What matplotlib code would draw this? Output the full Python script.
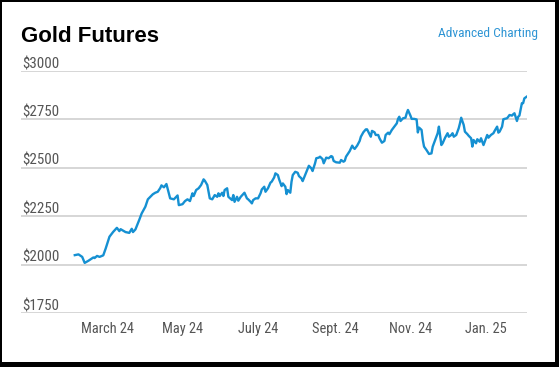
import matplotlib
matplotlib.use("Agg")
import matplotlib.pyplot as plt
import matplotlib.transforms as mtransforms
from matplotlib import font_manager
from matplotlib.patches import Rectangle
import pandas as pd

# Gold futures settle prices (USD/oz)
DATES = [
    "2024-02-04", "2024-02-07", "2024-02-10", "2024-02-12", "2024-02-15", "2024-02-19",
    "2024-02-20", "2024-02-22", "2024-02-24", "2024-02-27", "2024-02-29", "2024-03-03",
    "2024-03-06", "2024-03-09", "2024-03-11", "2024-03-12", "2024-03-16", "2024-03-19",
    "2024-03-21", "2024-03-22", "2024-03-24", "2024-03-27", "2024-03-29", "2024-04-01",
    "2024-04-03", "2024-04-05", "2024-04-07", "2024-04-09", "2024-04-11", "2024-04-13",
    "2024-04-14", "2024-04-16", "2024-04-18", "2024-04-20", "2024-04-21", "2024-04-24",
    "2024-04-27", "2024-04-28", "2024-05-01", "2024-05-03", "2024-05-05", "2024-05-07",
    "2024-05-09", "2024-05-10", "2024-05-12", "2024-05-14", "2024-05-16", "2024-05-18",
    "2024-05-19", "2024-05-21", "2024-05-22", "2024-05-23", "2024-05-25", "2024-05-27",
    "2024-05-29", "2024-05-30", "2024-05-31", "2024-06-02", "2024-06-03", "2024-06-04",
    "2024-06-06", "2024-06-07", "2024-06-10", "2024-06-11", "2024-06-12", "2024-06-14",
    "2024-06-15", "2024-06-17", "2024-06-19", "2024-06-20", "2024-06-22", "2024-06-23",
    "2024-06-25", "2024-06-26", "2024-06-27", "2024-06-29", "2024-07-01", "2024-07-03",
    "2024-07-04", "2024-07-06", "2024-07-07", "2024-07-09", "2024-07-11", "2024-07-12",
    "2024-07-14", "2024-07-15", "2024-07-17", "2024-07-18", "2024-07-20", "2024-07-21",
    "2024-07-23", "2024-07-24", "2024-07-25", "2024-07-27", "2024-07-28", "2024-07-29",
    "2024-07-31", "2024-08-02", "2024-08-03", "2024-08-05", "2024-08-06", "2024-08-08",
    "2024-08-10", "2024-08-11", "2024-08-13", "2024-08-14", "2024-08-16", "2024-08-17",
    "2024-08-19", "2024-08-20", "2024-08-22", "2024-08-23", "2024-08-25", "2024-08-27",
    "2024-08-29", "2024-08-30", "2024-08-31", "2024-09-02", "2024-09-05", "2024-09-06",
    "2024-09-08", "2024-09-09", "2024-09-10", "2024-09-13", "2024-09-15", "2024-09-16",
    "2024-09-17", "2024-09-19", "2024-09-21", "2024-09-22", "2024-09-24", "2024-09-26",
    "2024-09-27", "2024-09-29", "2024-09-30", "2024-10-01", "2024-10-03", "2024-10-04",
    "2024-10-06", "2024-10-07", "2024-10-09", "2024-10-11", "2024-10-12", "2024-10-14",
    "2024-10-15", "2024-10-17", "2024-10-19", "2024-10-21", "2024-10-22", "2024-10-23",
    "2024-10-24", "2024-10-26", "2024-10-28", "2024-10-29", "2024-10-30", "2024-11-01",
    "2024-11-02", "2024-11-04", "2024-11-06", "2024-11-07", "2024-11-08", "2024-11-10",
    "2024-11-11", "2024-11-12", "2024-11-14", "2024-11-16", "2024-11-18", "2024-11-19",
    "2024-11-21", "2024-11-23", "2024-11-24", "2024-11-26", "2024-11-27", "2024-11-29",
    "2024-12-01", "2024-12-02", "2024-12-04", "2024-12-05", "2024-12-06", "2024-12-08",
    "2024-12-10", "2024-12-11", "2024-12-12", "2024-12-14", "2024-12-15", "2024-12-17",
    "2024-12-18", "2024-12-20", "2024-12-21", "2024-12-22", "2024-12-24", "2024-12-25",
    "2024-12-27", "2024-12-28", "2024-12-30", "2025-01-01", "2025-01-02", "2025-01-03",
    "2025-01-05", "2025-01-07", "2025-01-08", "2025-01-10", "2025-01-11", "2025-01-12",
    "2025-01-14", "2025-01-15", "2025-01-16", "2025-01-18", "2025-01-19", "2025-01-20",
    "2025-01-22", "2025-01-23", "2025-01-24", "2025-01-26", "2025-01-27", "2025-01-28",
    "2025-01-30", "2025-01-31", "2025-02-01", "2025-02-03",
]
PRICES = [
    2050, 2054, 2041, 2010, 2021, 2038,
    2035, 2046, 2041, 2049, 2085, 2145,
    2170, 2191, 2174, 2184, 2169, 2165,
    2186, 2169, 2183, 2231, 2265, 2300,
    2338, 2351, 2364, 2372, 2377, 2396,
    2410, 2400, 2417, 2369, 2343, 2338,
    2358, 2308, 2313, 2329, 2338, 2329,
    2369, 2355, 2386, 2395, 2412, 2441,
    2434, 2412, 2377, 2343, 2338, 2360,
    2351, 2369, 2355, 2372, 2355, 2386,
    2395, 2351, 2334, 2360, 2325, 2351,
    2331, 2351, 2365, 2372, 2343, 2338,
    2325, 2317, 2334, 2343, 2343, 2369,
    2389, 2403, 2377, 2395, 2424, 2429,
    2451, 2472, 2463, 2441, 2406, 2420,
    2403, 2365, 2386, 2372, 2429, 2463,
    2480, 2475, 2458, 2446, 2432, 2463,
    2494, 2511, 2498, 2484, 2524, 2550,
    2553, 2558, 2546, 2524, 2553, 2550,
    2561, 2558, 2536, 2529, 2527, 2541,
    2532, 2537, 2558, 2587, 2615, 2604,
    2598, 2615, 2639, 2661, 2684, 2699,
    2699, 2674, 2661, 2691, 2684, 2670,
    2670, 2653, 2630, 2639, 2670, 2682,
    2674, 2696, 2713, 2730, 2753, 2764,
    2742, 2756, 2759, 2782, 2799, 2770,
    2753, 2753, 2750, 2683, 2708, 2696,
    2644, 2610, 2592, 2572, 2575, 2610,
    2644, 2679, 2713, 2618, 2627, 2656,
    2679, 2661, 2670, 2679, 2661, 2670,
    2705, 2730, 2759, 2722, 2687, 2674,
    2666, 2653, 2610, 2644, 2627, 2648,
    2635, 2653, 2618, 2653, 2670, 2656,
    2670, 2679, 2691, 2713, 2682, 2687,
    2713, 2751, 2753, 2756, 2764, 2773,
    2770, 2777, 2782, 2742, 2764, 2770,
    2834, 2834, 2859, 2868,
]

Y_TICKS = [1750, 2000, 2250, 2500, 2750, 3000]
X_TICK_DATES = ["2024-03-01", "2024-05-01", "2024-07-01", "2024-09-01", "2024-11-01", "2025-01-01"]
X_TICK_LABELS = ["March 24", "May 24", "July 24", "Sept. 24", "Nov. 24", "Jan. 25"]

TITLE = "Gold Futures"
LINK_TEXT = "Advanced Charting"

LINE_BLUE = "#1590d2"
LINK_BLUE = "#2f95d4"
GRID_GREY = "#cfcfcf"
LABEL_GREY = "#555555"

# WSJ uses a narrow face; take a condensed one if the box has it, else Liberation Sans
_installed = {f.name for f in font_manager.fontManager.ttflist}
_narrow_pick = [n for n in ("Liberation Sans Narrow", "Roboto Condensed", "DejaVu Sans Condensed",
                            "Open Sans Condensed") if n in _installed]
NARROW = (_narrow_pick[:1] or ["Liberation Sans"]) + ["DejaVu Sans"]
HAVE_NARROW = bool(_narrow_pick)
Y_LAB_SIZE = 10.8 if HAVE_NARROW else 9.4
X_LAB_SIZE = 10.4 if HAVE_NARROW else 9.2
LINK_SIZE = 9.6 if HAVE_NARROW else 8.2

W, H = 559, 367
fig = plt.figure(figsize=(W / 100, H / 100), dpi=100)
fig.patch.set_facecolor("white")

ax = fig.add_axes([21 / W, 1 - 313.3 / H, (527 - 21) / W, (313.3 - 71) / H])
dates = pd.to_datetime(DATES)
ax.plot(dates, PRICES, color=LINE_BLUE, linewidth=1.7, solid_joinstyle="round", zorder=3)

ax.set_ylim(Y_TICKS[0], Y_TICKS[-1])
ax.set_xlim(pd.Timestamp("2023-12-22 14:00"), pd.Timestamp("2025-02-03 03:00"))

ax.set_yticks(Y_TICKS)
ax.set_yticklabels([])
ax.tick_params(axis="y", length=0)
ax.grid(axis="y", color=GRID_GREY, linewidth=1.2)
ax.set_axisbelow(True)

ax.set_xticks(pd.to_datetime(X_TICK_DATES))
ax.set_xticklabels(X_TICK_LABELS, family=NARROW, fontsize=X_LAB_SIZE, color=LABEL_GREY)
ax.tick_params(axis="x", length=0, pad=6.5)

for s in ax.spines.values():
    s.set_visible(False)

# y labels sit on top of their gridlines, left aligned
lab_tr = mtransforms.offset_copy(ax.get_yaxis_transform(), fig=fig, x=1, y=3, units="dots")
for v in Y_TICKS:
    ax.text(0, v, f"\\${v}", transform=lab_tr, ha="left", va="baseline",
            family=NARROW, fontsize=Y_LAB_SIZE, color=LABEL_GREY)

fig.text(21 / W, 1 - 42.3 / H, TITLE, ha="left", va="baseline",
         family=["Liberation Sans", "DejaVu Sans"], fontweight="bold", fontsize=16, color="black")
fig.text(538 / W, 1 - 37.5 / H, LINK_TEXT, ha="right", va="baseline",
         family=NARROW, fontsize=LINK_SIZE, color=LINK_BLUE)

# black frame round the whole picture (heavier on right/bottom)
for x0, y0, w, h in [(0, 0, 2, H), (0, H - 2, W, 2), (W - 4, 0, 4, H), (0, 0, W, 5)]:
    fig.patches.append(Rectangle((x0 / W, y0 / H), w / W, h / H, transform=fig.transFigure,
                                 facecolor="black", edgecolor="none", zorder=10))

fig.savefig("out.png", dpi=100)
